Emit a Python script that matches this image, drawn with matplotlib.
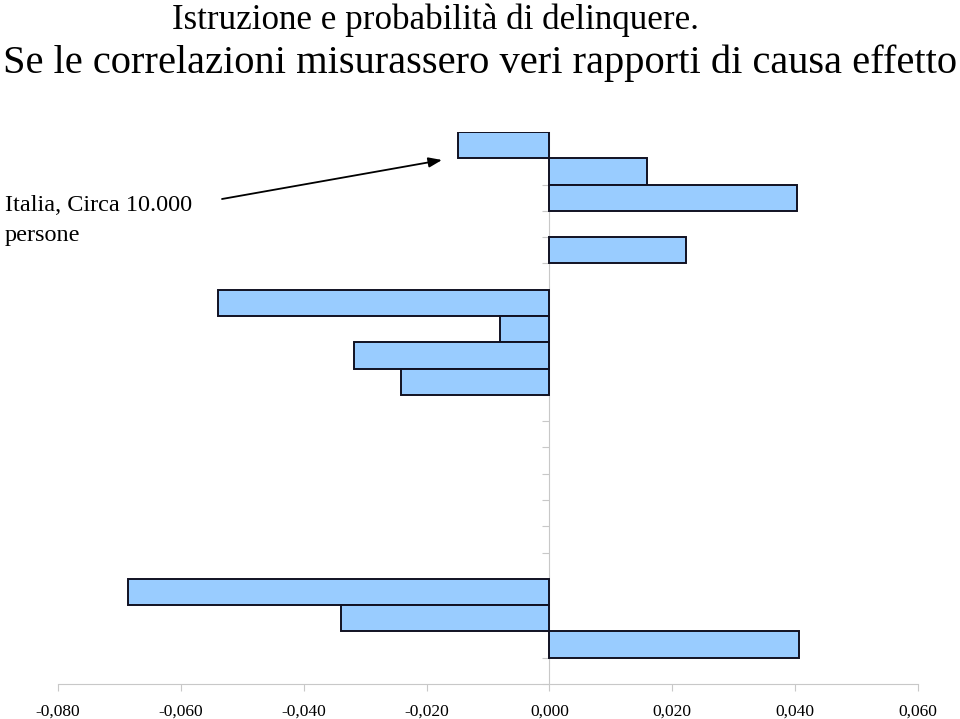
import matplotlib
matplotlib.use("Agg")
import matplotlib.pyplot as plt
import numpy as np

# Data (21 categories, top to bottom); NaN = no bar
values = [-0.0149, 0.0159, 0.0403, np.nan, 0.0222, np.nan,
          -0.0539, -0.0081, -0.0318, -0.0242,
          np.nan, np.nan, np.nan, np.nan, np.nan, np.nan, np.nan,
          -0.0686, -0.0339, 0.0406, np.nan]
x_ticks = [-0.08, -0.06, -0.04, -0.02, 0.0, 0.02, 0.04, 0.06]
x_tick_labels = ["-0,080", "-0,060", "-0,040", "-0,020", "0,000", "0,020", "0,040", "0,060"]
title_line1 = "Istruzione e probabilità di delinquere."
title_line2 = "Se le correlazioni misurassero veri rapporti di causa effetto"
note_line1 = "Italia, Circa 10.000"
note_line2 = "persone"

W, H = 960, 719
fig = plt.figure(figsize=(W/100, H/100), dpi=100)
ax = fig.add_axes([58/W, 1-684/H, (918-58)/W, (684-132)/H])

serif = ["Liberation Serif", "DejaVu Serif"]
n = len(values)
pos = np.arange(n)
ax.barh(pos, values, height=1.0, color="#99CCFF", edgecolor="#111122",
        linewidth=1.4, zorder=3)

ax.set_xlim(-0.08, 0.06)
ax.set_ylim(n - 0.5, -0.5)

for s in ["top", "right"]:
    ax.spines[s].set_visible(False)
ax.spines["left"].set_position(("data", 0))
ax.spines["left"].set_color("#c8c8c8")
ax.spines["bottom"].set_color("#c8c8c8")
ax.spines["left"].set_zorder(1)

ax.set_yticks(np.arange(-0.5, n, 1.0))
ax.set_yticklabels([])
ax.tick_params(axis="y", direction="out", length=5, color="#c8c8c8")
ax.set_xticks(x_ticks)
ax.set_xticklabels(x_tick_labels, family=serif, fontsize=12.5)
ax.tick_params(axis="x", direction="out", length=5, color="#c8c8c8", pad=9)

fig.text(172/W, 1-29/H, title_line1, family=serif, fontsize=25.2,
         ha="left", va="baseline")
fig.text(480/W, 1-73/H, title_line2, family=serif, fontsize=29.2,
         ha="center", va="baseline")
fig.text(5/W, 1-211/H, note_line1, family=serif, fontsize=17.5,
         ha="left", va="baseline")
fig.text(5/W, 1-241/H, note_line2, family=serif, fontsize=17.5,
         ha="left", va="baseline")

ax.annotate("", xy=(442/W, 1-160/H), xycoords="figure fraction",
            xytext=(222/W, 1-199/H), textcoords="figure fraction",
            arrowprops=dict(arrowstyle="-|>,head_length=0.8,head_width=0.3",
                            color="black", lw=1.3, shrinkA=0, shrinkB=0))

fig.savefig("out.png", dpi=100)
